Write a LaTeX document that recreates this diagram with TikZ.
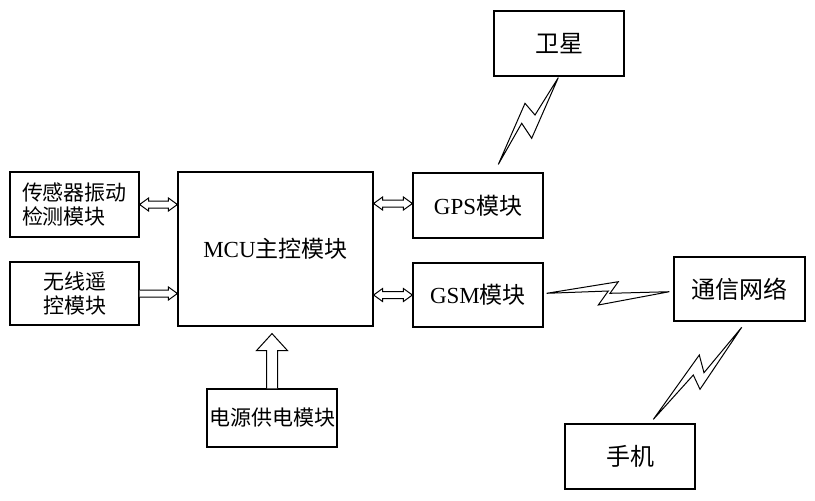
\documentclass[tikz,border=0pt]{standalone}
\usepackage{fontspec}
\setmainfont{Liberation Serif}
\newfontfamily\cjk{Noto Sans CJK SC}
\usetikzlibrary{calc}
\tikzset{
  box/.style={draw, line width=0.6pt, rectangle, inner sep=0pt, font=\fontsize{10.5pt}{12pt}\selectfont},
  bigbox/.style={box, font=\fontsize{12pt}{14pt}\selectfont},
  arr/.style={draw, line width=0.5pt, fill=white, line join=miter},
  bolt/.style={draw, line width=0.5pt, line join=miter}
}
\newcommand\hdarrow[2]{%
  \draw[arr] (#1) -- ($(#1)+(9,-6.5)$) -- ($(#1)+(9,-3.5)$) -- ($(#2)+(-9,-3.5)$) -- ($(#2)+(-9,-6.5)$) -- (#2)
    -- ($(#2)+(-9,6.5)$) -- ($(#2)+(-9,3.5)$) -- ($(#1)+(9,3.5)$) -- ($(#1)+(9,6.5)$) -- cycle;}
\newcommand\hsarrow[2]{%
  \draw[arr] ($(#1)+(0,-3.5)$) -- ($(#2)+(-9,-3.5)$) -- ($(#2)+(-9,-6.5)$) -- (#2)
    -- ($(#2)+(-9,6.5)$) -- ($(#2)+(-9,3.5)$) -- ($(#1)+(0,3.5)$);}
\begin{document}
\begin{tikzpicture}[x=0.5pt,y=-0.5pt]
\useasboundingbox (0,0) rectangle (815,500);
% boxes
\node[box, minimum width=64.5pt, minimum height=32.5pt, align=left] (sensor) at (74.5,204.5) {\cjk 传感器振动\\\cjk 检测模块};
\node[box, minimum width=64.5pt, minimum height=31.5pt, align=left] (wireless) at (74.5,293.5) {\cjk 无线遥\\\cjk 控模块};
\node[box, minimum width=97.5pt, minimum height=77pt, font=\fontsize{11.5pt}{13pt}\selectfont] (mcu) at (275.5,249) {MCU{\cjk 主控模块}};
\node[box, minimum width=65pt, minimum height=32.5pt, font=\fontsize{11.5pt}{13pt}\selectfont] (gps) at (478,205.5) {GPS{\cjk 模块}};
\node[box, minimum width=65pt, minimum height=32pt, font=\fontsize{11.5pt}{13pt}\selectfont] (gsm) at (478,295) {GSM{\cjk 模块}};
\node[bigbox, minimum width=65pt, minimum height=32.5pt] (sat) at (559,43.5) {\cjk 卫星};
\node[bigbox, minimum width=65.5pt, minimum height=32pt] (net) at (739.5,289) {\cjk 通信网络};
\node[bigbox, minimum width=65pt, minimum height=32.5pt] (phone) at (630,456.5) {\cjk 手机};
\node[box, minimum width=65pt, minimum height=29pt] (power) at (272,418) {\cjk 电源供电模块};
% hollow arrows
\coordinate (s1) at (sensor.east);
\coordinate (s2) at (sensor.east -| mcu.west);
\hdarrow{s1}{s2}
\coordinate (w1) at (wireless.east);
\coordinate (w2) at (wireless.east -| mcu.west);
\hsarrow{w1}{w2}
\coordinate (g1) at ($(gps.west)+(0,-2)$);
\coordinate (g0) at (g1 -| mcu.east);
\hdarrow{g0}{g1}
\coordinate (m1) at (gsm.west);
\coordinate (m0) at (gsm.west -| mcu.east);
\hdarrow{m0}{m1}
% power arrow
\coordinate (p0) at (power.north);
\coordinate (p1) at ($(power.north |- mcu.south)+(0,7)$);
\draw[arr] ($(p0)+(-5.5,0)$) -- ($(p1)+(-5.5,17)$) -- ($(p1)+(-15.5,17)$) -- (p1) -- ($(p1)+(15.5,17)$) -- ($(p1)+(5.5,17)$) -- ($(p0)+(5.5,0)$);
% lightning bolts
\coordinate (a1) at ($(sat.south)+(-0.7,1)$);
\coordinate (a2) at ($(gps.north)+(20.3,-8)$);
\draw[bolt] (a1) -- (535,115) -- (525,103.3) -- (a2) -- (521.7,123.3) -- (531.7,138.3) -- cycle;
\coordinate (b1) at ($(gsm.east)+(3,-1.7)$);
\coordinate (b2) at ($(net.west)+(-4,2.7)$);
\draw[bolt] (b1) -- (618.3,281.7) -- (610,293.3) -- (b2) -- (598.3,305) -- (608.3,291) -- cycle;
\coordinate (c1) at ($(net.south)+(2.2,5.7)$);
\coordinate (c2) at ($(phone.north)+(23.3,-4)$);
\draw[bolt] (c1) -- (704,372.7) -- (699.3,355) -- (c2) -- (693.3,375) -- (700,389.3) -- cycle;
\end{tikzpicture}
\end{document}
